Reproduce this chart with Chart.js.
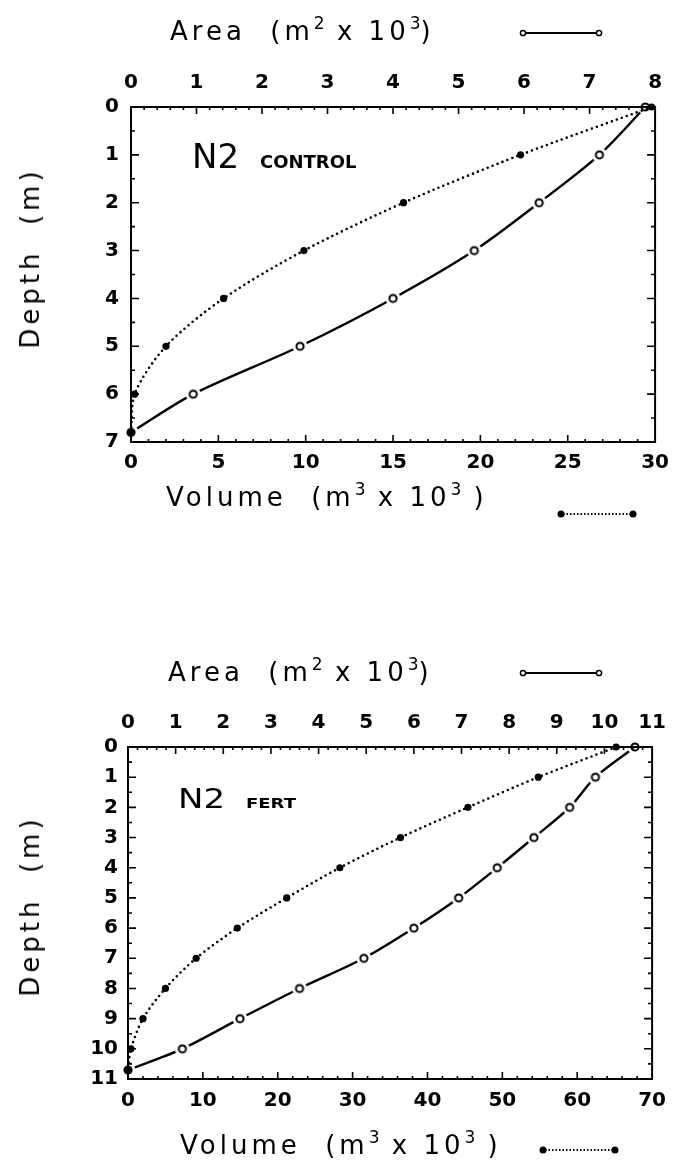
<!DOCTYPE html>
<html>
<head>
<meta charset="utf-8">
<script src="https://cdn.jsdelivr.net/npm/chart.js@4.4.1/dist/chart.umd.min.js"></script>
<style>
  html, body { margin: 0; padding: 0; background: #fff; }
  #page { position: relative; width: 678px; height: 1168px; overflow: hidden; font-family: "DejaVu Sans", sans-serif; color: #000; }
  canvas { position: absolute; left: 0; }
  .ttl { position: absolute; font-size: 26px; line-height: 30px; letter-spacing: 4px; white-space: nowrap; }
  .ttl sup { font-size: 17px; vertical-align: 11px; line-height: 0; letter-spacing: 0; }
  .vt { position: absolute; font-size: 26px; letter-spacing: 4px; white-space: nowrap; transform: translate(-50%, -50%) rotate(-90deg); }
  .sym { position: absolute; }
</style>
</head>
<body>
<div id="page">
  <canvas id="control" width="678" height="560" style="top:0"></canvas>
  <canvas id="fert" width="678" height="568" style="top:600px"></canvas>

  <div class="ttl" style="left:170px; top:16px">Area&nbsp;&nbsp;(m<sup>2</sup> x 10<sup>3</sup>)</div>
  <svg class="sym" style="left:517px; top:27px" width="88" height="12">
    <line x1="8" y1="6" x2="80" y2="6" stroke="#000" stroke-width="2"/>
    <circle cx="6" cy="6" r="2.6" fill="#fff" stroke="#000" stroke-width="1.5"/>
    <circle cx="82" cy="6" r="2.6" fill="#fff" stroke="#000" stroke-width="1.5"/>
  </svg>
  <div class="vt" style="left:30px; top:258px">Depth&nbsp;&nbsp;(m)</div>
  <div class="ttl" style="left:166px; top:482px">Volume&nbsp;&nbsp;(m<sup>3</sup> x 10<sup>3</sup>&nbsp;)</div>
  <svg class="sym" style="left:555px; top:508px" width="84" height="12">
    <line x1="8" y1="6" x2="76" y2="6" stroke="#000" stroke-width="2" stroke-dasharray="1.5 2"/>
    <circle cx="6" cy="6" r="3.5" fill="#000"/>
    <circle cx="78" cy="6" r="3.5" fill="#000"/>
  </svg>

  <div class="ttl" style="left:168px; top:657px">Area&nbsp;&nbsp;(m<sup>2</sup> x 10<sup>3</sup>)</div>
  <svg class="sym" style="left:517px; top:667px" width="88" height="12">
    <line x1="8" y1="6" x2="80" y2="6" stroke="#000" stroke-width="2"/>
    <circle cx="6" cy="6" r="2.6" fill="#fff" stroke="#000" stroke-width="1.5"/>
    <circle cx="82" cy="6" r="2.6" fill="#fff" stroke="#000" stroke-width="1.5"/>
  </svg>
  <div class="vt" style="left:30px; top:906px">Depth&nbsp;&nbsp;(m)</div>
  <div class="ttl" style="left:180px; top:1130px">Volume&nbsp;&nbsp;(m<sup>3</sup> x 10<sup>3</sup>&nbsp;)</div>
  <svg class="sym" style="left:537px; top:1144px" width="84" height="12">
    <line x1="8" y1="6" x2="76" y2="6" stroke="#000" stroke-width="2" stroke-dasharray="1.5 2"/>
    <circle cx="6" cy="6" r="3.5" fill="#000"/>
    <circle cx="78" cy="6" r="3.5" fill="#000"/>
  </svg>
</div>

<script>
// N2 control basin (top panel)
const depthControl  = [0, 1, 2, 3, 4, 5, 6, 6.8];
const areaControl   = [7.85, 7.15, 6.23, 5.24, 4.0, 2.58, 0.95, 0];
const volumeControl = [29.8, 22.3, 15.6, 9.9, 5.3, 2.0, 0.2, 0];

// N2 fertilized basin (bottom panel)
const depthFert  = [0, 1, 2, 3, 4, 5, 6, 7, 8, 9, 10, 10.7];
const areaFert   = [10.64, 9.81, 9.27, 8.52, 7.75, 6.94, 6.0, 4.95, 3.6, 2.35, 1.14, 0];
const volumeFert = [65.2, 54.8, 45.4, 36.4, 28.3, 21.2, 14.6, 9.1, 5.0, 2.0, 0.4, 0];

const areaTicksControl = [0, 1, 2, 3, 4, 5, 6, 7, 8];
const volTicksControl  = [0, 5, 10, 15, 20, 25, 30];
const depthTicksControl = [0, 1, 2, 3, 4, 5, 6, 7];
const areaTicksFert = [0, 1, 2, 3, 4, 5, 6, 7, 8, 9, 10, 11];
const volTicksFert  = [0, 10, 20, 30, 40, 50, 60, 70];
const depthTicksFert = [0, 1, 2, 3, 4, 5, 6, 7, 8, 9, 10, 11];

const tickFont = { family: 'DejaVu Sans', size: 20, weight: 'bold' };

// open circle with a white halo so the solid line breaks around it
function ringMarker() {
  const c = document.createElement('canvas');
  c.width = 18; c.height = 18;
  const g = c.getContext('2d');
  g.fillStyle = '#fff';
  g.beginPath(); g.arc(9, 9, 7.5, 0, Math.PI * 2); g.fill();
  g.strokeStyle = '#000'; g.lineWidth = 2;
  g.beginPath(); g.arc(9, 9, 3.6, 0, Math.PI * 2); g.stroke();
  return c;
}
const ring = ringMarker();

// boxed frame with inward major/minor ticks on all four sides
const frameTicks = {
  id: 'frameTicks',
  afterDraw(chart, args, o) {
    const { ctx, chartArea: a } = chart;
    const sx = chart.scales.xArea, sv = chart.scales.xVol, sy = chart.scales.y;
    ctx.save();
    ctx.strokeStyle = '#000';
    ctx.lineWidth = 2;
    ctx.strokeRect(a.left, a.top, a.right - a.left, a.bottom - a.top);
    ctx.lineWidth = 1.6;
    const marks = (scale, max, step, fn) => {
      const n = Math.round(max / step);
      for (let i = 1; i < n; i++) fn(scale.getPixelForValue(i * step));
    };
    ctx.beginPath();
    marks(sx, sx.max, o.areaMinor, p => { ctx.moveTo(p, a.top); ctx.lineTo(p, a.top + 3); });
    marks(sx, sx.max, 1, p => { ctx.moveTo(p, a.top); ctx.lineTo(p, a.top + 7); });
    marks(sv, sv.max, o.volMinor, p => { ctx.moveTo(p, a.bottom); ctx.lineTo(p, a.bottom - 3); });
    marks(sv, sv.max, o.volMajor, p => { ctx.moveTo(p, a.bottom); ctx.lineTo(p, a.bottom - 7); });
    marks(sy, sy.max, 0.5, p => {
      ctx.moveTo(a.left, p); ctx.lineTo(a.left + 4, p);
      ctx.moveTo(a.right, p); ctx.lineTo(a.right - 4, p);
    });
    marks(sy, sy.max, 1, p => {
      ctx.moveTo(a.left, p); ctx.lineTo(a.left + 8, p);
      ctx.moveTo(a.right, p); ctx.lineTo(a.right - 8, p);
    });
    ctx.stroke();

    // panel label, e.g. "N2 CONTROL"
    ctx.fillStyle = '#000';
    ctx.textBaseline = 'alphabetic';
    ctx.save();
    ctx.translate(a.left + o.labelX, a.top + o.labelY);
    ctx.scale(1, o.labelSquash);
    ctx.font = '34px "DejaVu Sans"';
    ctx.fillText('N2', 0, 0);
    ctx.font = 'bold ' + o.smallSize + 'px "DejaVu Sans"';
    ctx.fillText(o.small, o.smallX, 0);
    ctx.restore();
    ctx.restore();
  }
};

function makeChart(id, cfg) {
  return new Chart(document.getElementById(id), {
    type: 'scatter',
    data: {
      datasets: [
        {
          label: 'Volume',
          data: cfg.depth.map((d, i) => ({ x: cfg.volume[i], y: d })),
          xAxisID: 'xVol',
          showLine: true,
          tension: 0.3,
          borderColor: '#000',
          borderWidth: 2.6,
          borderDash: [0, 5.3],
          borderCapStyle: 'round',
          pointRadius: 3.6,
          pointBackgroundColor: '#000',
          pointBorderWidth: 0,
          clip: false
        },
        {
          label: 'Area',
          data: cfg.depth.map((d, i) => ({ x: cfg.area[i], y: d })),
          xAxisID: 'xArea',
          showLine: true,
          tension: 0.3,
          borderColor: '#000',
          borderWidth: 2.4,
          pointStyle: ring,
          clip: false
        }
      ]
    },
    options: {
      responsive: false,
      animation: false,
      events: [],
      layout: { padding: { left: 0, right: cfg.padRight, top: 0, bottom: 0 } },
      plugins: {
        legend: { display: false },
        tooltip: { enabled: false },
        frameTicks: cfg.frame
      },
      scales: {
        xArea: {
          type: 'linear',
          position: 'top',
          min: 0,
          max: cfg.areaTicks[cfg.areaTicks.length - 1],
          afterBuildTicks: s => { s.ticks = cfg.areaTicks.map(v => ({ value: v })); },
          afterFit: s => { s.height = cfg.topH; },
          grid: { display: false, drawTicks: false },
          border: { display: false },
          ticks: { color: '#000', font: tickFont, padding: cfg.topPad, maxRotation: 0 }
        },
        xVol: {
          type: 'linear',
          position: 'bottom',
          min: 0,
          max: cfg.volTicks[cfg.volTicks.length - 1],
          afterBuildTicks: s => { s.ticks = cfg.volTicks.map(v => ({ value: v })); },
          afterFit: s => { s.height = cfg.bottomH; },
          grid: { display: false, drawTicks: false },
          border: { display: false },
          ticks: { color: '#000', font: tickFont, padding: cfg.bottomPad, maxRotation: 0 }
        },
        y: {
          type: 'linear',
          reverse: true,
          min: 0,
          max: cfg.depthTicks[cfg.depthTicks.length - 1],
          afterBuildTicks: s => { s.ticks = cfg.depthTicks.map(v => ({ value: v })); },
          afterFit: s => { s.width = cfg.leftW; },
          grid: { display: false, drawTicks: false },
          border: { display: false },
          ticks: { color: '#000', font: tickFont, padding: cfg.leftPad }
        }
      }
    },
    plugins: [frameTicks]
  });
}

makeChart('control', {
  depth: depthControl, area: areaControl, volume: volumeControl,
  areaTicks: areaTicksControl, volTicks: volTicksControl, depthTicks: depthTicksControl,
  padRight: 16, topH: 107, bottomH: 118, leftW: 131,
  topPad: 12, bottomPad: 9, leftPad: 12,
  frame: { areaMinor: 0.2, volMinor: 1, volMajor: 5, labelX: 61, labelY: 61, labelSquash: 1, small: 'CONTROL', smallX: 68, smallSize: 18 }
});

makeChart('fert', {
  depth: depthFert, area: areaFert, volume: volumeFert,
  areaTicks: areaTicksFert, volTicks: volTicksFert, depthTicks: depthTicksFert,
  padRight: 21, topH: 147, bottomH: 89, leftW: 128,
  topPad: 12, bottomPad: 10, leftPad: 10,
  frame: { areaMinor: 0.2, volMinor: 2, volMajor: 10, labelX: 50, labelY: 61, labelSquash: 0.8, small: 'FERT', smallX: 68, smallSize: 18 }
});
</script>
</body>
</html>
